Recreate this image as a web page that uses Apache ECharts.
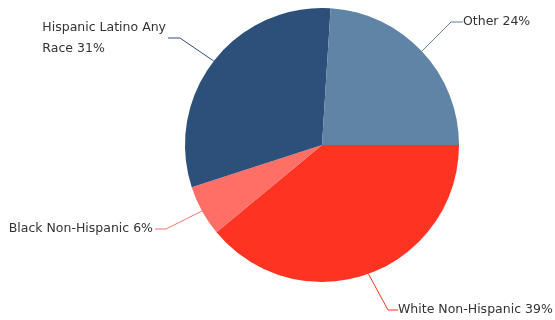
<!DOCTYPE html>
<html><head><meta charset="utf-8">
<script src="https://cdn.jsdelivr.net/npm/echarts@6/dist/echarts.min.js"></script>
<style>html,body{margin:0;padding:0;background:#fff}#c{width:555px;height:320px}</style>
</head><body><div id="c"></div>
<script>
var categories = ['White Non-Hispanic', 'Black Non-Hispanic', 'Hispanic Latino Any Race', 'Other'];
var values = [39, 6, 31, 24];
var colors = ['#FF3322', '#FF6F66', '#2C5079', '#5F84A6'];

// label connector geometry: [elbowX, elbowY, endX, side]
var labelGeom = [
  [388, 310, 398, 'right'],
  [166, 229, 155, 'left'],
  [180, 38, 168, 'left'],
  [451, 22, 463, 'right']
];

var chart = echarts.init(document.getElementById('c'));
chart.setOption({
  animation: false,
  series: [{
    type: 'pie',
    center: [322, 145],
    radius: 137,
    startAngle: 0,
    clockwise: true,
    avoidLabelOverlap: false,
    data: categories.map(function (n, i) {
      return { name: n, value: values[i], itemStyle: { color: colors[i] },
        labelLine: { lineStyle: { color: colors[i] } } };
    }),
    itemStyle: { borderWidth: 0 },
    label: {
      show: true,
      formatter: function (p) {
        var name = p.name.replace('Any Race', 'Any\nRace');
        return name + ' ' + Math.round(p.percent) + '%';
      },
      fontFamily: 'DejaVu Sans',
      fontSize: 12.5,
      color: '#333333',
      lineHeight: 21,
      align: 'left'
    },
    labelLine: { show: true, length: 30, length2: 10, lineStyle: { width: 1 } },
    emphasis: { disabled: true },
    labelLayout: function (p) {
      var g = labelGeom[p.dataIndex];
      var start = p.labelLinePoints ? p.labelLinePoints[0] : [g[0], g[1]];
      var w = p.labelRect.width;
      var x = g[3] === 'right' ? g[2] : g[2] - w - 2;
      return {
        x: x,
        y: g[1],
        align: 'left',
        verticalAlign: 'middle',
        labelLinePoints: [start, [g[0], g[1]], [g[2], g[1]]]
      };
    }
  }]
});
</script></body></html>
